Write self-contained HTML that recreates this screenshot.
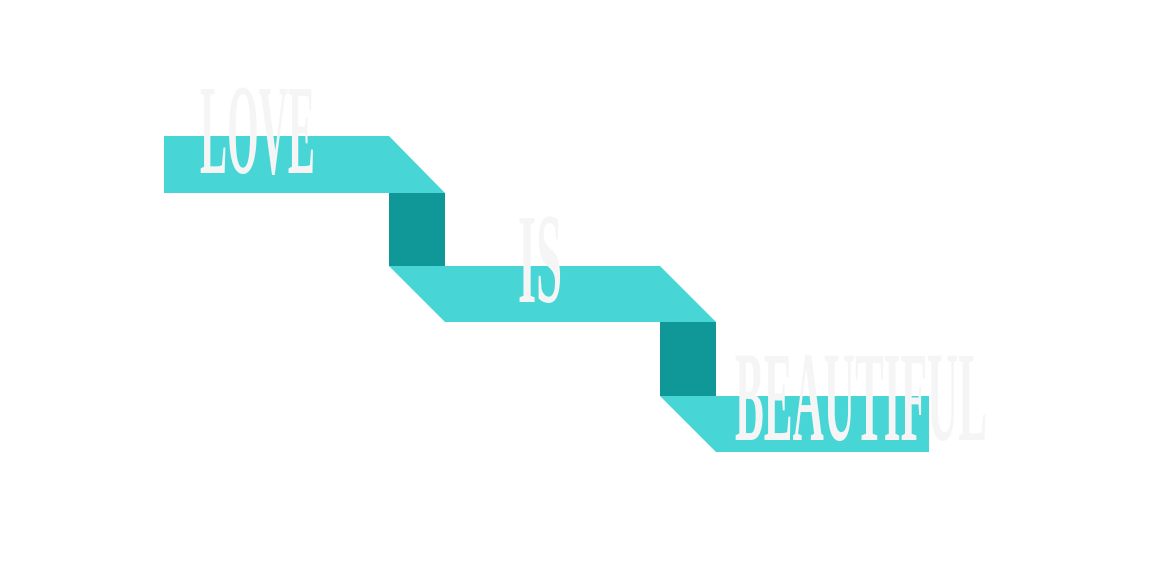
<!DOCTYPE html>
<html><head><meta charset="utf-8"><style>html,body{margin:0;padding:0;background:#fff;}svg{display:block}</style></head>
<body>
<svg width="1152" height="570" viewBox="0 0 1152 570" xmlns="http://www.w3.org/2000/svg">
<rect width="1152" height="570" fill="#fff"/>
<polygon points="164,136 389,136 445,193 164,193" fill="#47d5d6"/>
<rect x="389" y="193" width="56" height="73" fill="#109898"/>
<polygon points="389,266 660,266 716,322 445,322" fill="#47d5d6"/>
<rect x="660" y="322" width="56" height="74" fill="#109898"/>
<polygon points="660,396 929,396 929,452 716,452" fill="#47d5d6"/>
<g font-family="Liberation Serif, serif" font-weight="bold" font-size="128" fill="#f5f5f5">
<text x="200" y="173" textLength="115" lengthAdjust="spacingAndGlyphs">LOVE</text>
<text x="518" y="302" textLength="44" lengthAdjust="spacingAndGlyphs">IS</text>
<text x="735" y="440" textLength="252" lengthAdjust="spacingAndGlyphs">BEAUTIFUL</text>
</g>
</svg>
</body></html>
